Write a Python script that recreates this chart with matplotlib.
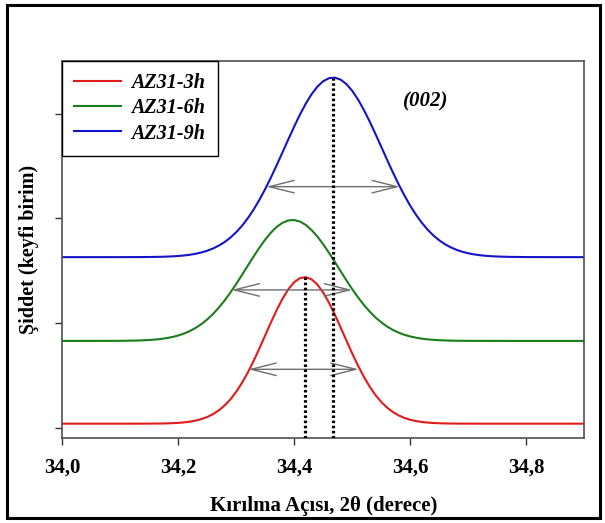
import matplotlib
matplotlib.use("Agg")
import matplotlib.pyplot as plt
from matplotlib.patches import Rectangle

# ---------------- data ----------------
two_theta = [34.00, 34.05, 34.10, 34.13, 34.15, 34.16, 34.17, 34.18, 34.19,
             34.20, 34.21, 34.22, 34.23, 34.24, 34.25, 34.26, 34.27, 34.28, 34.29,
             34.30, 34.31, 34.32, 34.33, 34.34, 34.35, 34.36, 34.37, 34.38, 34.39,
             34.40, 34.41, 34.42, 34.43, 34.44, 34.45, 34.46, 34.47, 34.48, 34.49,
             34.50, 34.51, 34.52, 34.53, 34.54, 34.55, 34.56, 34.57, 34.58, 34.59,
             34.60, 34.61, 34.62, 34.63, 34.64, 34.65, 34.66, 34.67, 34.68, 34.69,
             34.70, 34.71, 34.72, 34.73, 34.74, 34.75, 34.77, 34.80, 34.85, 34.90]

az31_3h = [0.0400, 0.0400, 0.0400, 0.0400, 0.0405, 0.0409, 0.0416, 0.0428, 0.0447,
           0.0476, 0.0521, 0.0590, 0.0689, 0.0833, 0.1033, 0.1304, 0.1665, 0.2132, 0.2718,
           0.3438, 0.4292, 0.5280, 0.6385, 0.7581, 0.8829, 1.0078, 1.1272, 1.2348, 1.3246,
           1.3911, 1.4302, 1.4394, 1.4180, 1.3676, 1.2912, 1.1936, 1.0806, 0.9581, 0.8325,
           0.7093, 0.5930, 0.4870, 0.3935, 0.3134, 0.2469, 0.1932, 0.1509, 0.1186, 0.0945,
           0.0769, 0.0645, 0.0559, 0.0501, 0.0463, 0.0438, 0.0423, 0.0413, 0.0407, 0.0404,
           0.0402, 0.0401, 0.0400, 0.0400, 0.0400, 0.0400, 0.0400, 0.0400, 0.0400, 0.0400]

az31_6h = [0.8300, 0.8301, 0.8310, 0.8338, 0.8387, 0.8428, 0.8486, 0.8565, 0.8673,
           0.8816, 0.9001, 0.9239, 0.9536, 0.9903, 1.0346, 1.0868, 1.1472, 1.2158, 1.2915,
           1.3734, 1.4598, 1.5483, 1.6361, 1.7203, 1.7977, 1.8650, 1.9195, 1.9585, 1.9805,
           1.9842, 1.9695, 1.9371, 1.8884, 1.8260, 1.7522, 1.6704, 1.5836, 1.4952, 1.4076,
           1.3236, 1.2452, 1.1737, 1.1100, 1.0544, 1.0071, 0.9674, 0.9350, 0.9089, 0.8884,
           0.8725, 0.8605, 0.8515, 0.8449, 0.8402, 0.8368, 0.8345, 0.8329, 0.8319, 0.8312,
           0.8307, 0.8304, 0.8303, 0.8302, 0.8301, 0.8301, 0.8300, 0.8300, 0.8300, 0.8300]

az31_9h = [1.6300, 1.6300, 1.6301, 1.6305, 1.6314, 1.6322, 1.6333, 1.6350, 1.6375,
           1.6410, 1.6459, 1.6527, 1.6620, 1.6745, 1.6910, 1.7123, 1.7396, 1.7739, 1.8162,
           1.8677, 1.9291, 2.0010, 2.0836, 2.1769, 2.2802, 2.3920, 2.5105, 2.6331, 2.7568,
           2.8778, 2.9924, 3.0965, 3.1865, 3.2587, 3.3102, 3.3390, 3.3440, 3.3246, 3.2819,
           3.2176, 3.1344, 3.0354, 2.9247, 2.8056, 2.6827, 2.5592, 2.4386, 2.3239, 2.2170,
           2.1196, 2.0327, 1.9565, 1.8910, 1.8356, 1.7899, 1.7524, 1.7225, 1.6989, 1.6806,
           1.6666, 1.6561, 1.6484, 1.6428, 1.6387, 1.6359, 1.6326, 1.6307, 1.6301, 1.6300]

series_labels = ["AZ31-3h", "AZ31-6h", "AZ31-9h"]
series_colors = ["#e01b1b", "#1a7f1a", "#1414c8"]

# peak positions marked with dotted lines (3h and 9h)
peak_pos = [34.418, 34.467]
peak_top = [1.439, 3.344]

# FWHM arrows (3h, 6h, 9h)
fwhm_left = [34.321, 34.292, 34.352]
fwhm_right = [34.511, 34.500, 34.582]
fwhm_level = [0.559, 1.317, 2.303]

x_ticks = [34.0, 34.2, 34.4, 34.6, 34.8]
x_ticklabels = ["34,0", "34,2", "34,4", "34,6", "34,8"]
y_ticks = [0, 1, 2, 3]

# ---------------- figure ----------------
plt.rcParams['font.family'] = ['Liberation Serif', 'DejaVu Serif']

fig = plt.figure(figsize=(6.05, 5.23), dpi=100)
ax = fig.add_axes([0.1025, 0.1625, 0.8636, 0.7209])

for ys, lab, col in zip([az31_3h, az31_6h, az31_9h], series_labels, series_colors):
    ax.plot(two_theta, ys, color=col, lw=1.5, label=lab, zorder=2)

ylo, yhi = -0.097, 3.503
ax.vlines(peak_pos, ylo, peak_top, colors='black', lw=2.3,
          linestyles=[(0, (0.8, 0.8))], zorder=4)

for xl, xr, yl in zip(fwhm_left, fwhm_right, fwhm_level):
    ax.annotate('', xy=(xr, yl), xytext=(xl, yl),
                arrowprops=dict(arrowstyle='<->, head_length=1.8, head_width=0.45',
                                mutation_scale=10, color='#6e6e6e', lw=1.0,
                                shrinkA=0, shrinkB=0), zorder=3)

ax.text(34.627, 3.12, "(002)", ha='center', va='center', fontsize=15,
        fontweight='bold', fontstyle='italic')

ax.set_xlim(34.0, 34.9)
ax.set_ylim(ylo, yhi)
ax.set_xticks(x_ticks)
ax.set_xticklabels(x_ticklabels, fontsize=15, fontweight='bold')
ax.set_yticks(y_ticks)
ax.set_yticklabels([])
ax.tick_params(axis='x', direction='out', length=5, width=1.0, pad=9, color='#333333')
ax.tick_params(axis='y', direction='out', length=5, width=1.0, color='#333333')
for sp in ax.spines.values():
    sp.set_color('#505050')
    sp.set_linewidth(1.2)

ax.set_xlabel("Kırılma Açısı, 2θ (derece)", fontsize=15, fontweight='bold', labelpad=13)
ax.set_ylabel("Şiddet (keyfi birim)", fontsize=14.5, fontweight='bold', labelpad=8)

leg = ax.legend(loc='upper left', bbox_to_anchor=(0, 1), borderaxespad=0,
                fancybox=False, edgecolor='black', framealpha=1,
                prop={'size': 14.5, 'weight': 'bold', 'style': 'italic'},
                handlelength=2.35, handletextpad=0.5, labelspacing=0.26,
                borderpad=0.6)
leg.get_frame().set_linewidth(1.0)

# outer frame around the picture
fig.patches.append(Rectangle((7 / 605, 5 / 523), 593 / 605, 513 / 523,
                             transform=fig.transFigure, fill=False,
                             edgecolor='black', lw=2.2))

fig.savefig("out.png", dpi=100)
